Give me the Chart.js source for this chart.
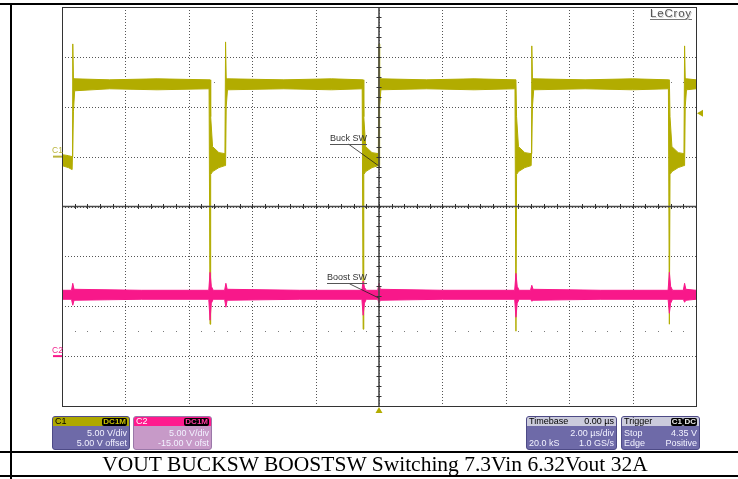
<!DOCTYPE html>
<html>
<head>
<meta charset="utf-8">
<script src="https://cdn.jsdelivr.net/npm/chart.js@4.4.0/dist/chart.umd.min.js"></script>
<style>
  html, body { margin: 0; padding: 0; background: #fff; }
  #page { position: relative; width: 738px; height: 479px; overflow: hidden; font-family: "Liberation Sans", Arial, sans-serif; }
  #scope { position: absolute; left: 0; top: 0; }
  .rule { position: absolute; background: #000; }
  .lbl { position: absolute; font-size: 8.5px; line-height: 9px; white-space: nowrap; }
  .note { position: absolute; font-size: 9px; line-height: 9px; color: #333; white-space: nowrap; border-bottom: 1px solid #555; padding-bottom: 1px; }
  #logo { position: absolute; left: 650px; top: 7px; font-size: 11.5px; line-height: 12px; color: #555; letter-spacing: 0.8px; border-bottom: 1px solid #777; text-shadow: 1px 1px 0 #d0d0d0; }
  #caption { position: absolute; left: 12px; width: 726px; top: 453px; height: 22px; line-height: 22px; text-align: center; font-family: "Liberation Serif", "Times New Roman", serif; font-size: 21.5px; color: #000; white-space: nowrap; }
  .box { position: absolute; top: 416px; height: 34px; border-radius: 3px; overflow: hidden; border: 1px solid #4d4a86; box-sizing: border-box; font-size: 9px; line-height: 9px; }
  .box .hd { position: absolute; left: 0; right: 0; top: 0; height: 9px; color: #000; }
  .box .hd span { position: absolute; top: 0; }
  .box .row { position: absolute; left: 2px; right: 2px; height: 9px; color: #f2f2ff; }
  .box .row span { position: absolute; top: 0; }
  .badge { background: #000; border-radius: 2px; font-weight: bold; font-size: 8px; line-height: 8px; padding: 0 1px; top: 0.5px !important; }
</style>
</head>
<body>
<div id="page">
  <canvas id="scope" width="738" height="479"></canvas>

  <div class="rule" style="left:0; top:3px; width:738px; height:2px;"></div>
  <div class="rule" style="left:10px; top:3px; width:2px; height:476px;"></div>
  <div class="rule" style="left:0; top:451px; width:738px; height:2px;"></div>
  <div class="rule" style="left:0; top:475px; width:738px; height:2px;"></div>

  <div id="logo">LeCroy</div>

  <div class="lbl" style="left:52px; top:146px; color:#bab43c;">C1</div>
  <div class="lbl" style="left:52px; top:346px; color:#f0208c;">C2</div>

  <div class="note" style="left:330px; top:134px;">Buck SW</div>
  <div class="note" style="left:327px; top:273px;">Boost SW</div>

  <div class="box" style="left:52px; width:78px; background:#6e6aa8;">
    <div class="hd" style="background:#aea800;"><span style="left:2px;">C1</span><span class="badge" style="right:2px; color:#c8c200;">DC1M</span></div>
    <div class="row" style="top:12px;"><span style="right:0;">5.00 V/div</span></div>
    <div class="row" style="top:22px;"><span style="right:0;">5.00 V offset</span></div>
  </div>
  <div class="box" style="left:133px; width:79px; background:#c79ac8; border-color:#9a78a8;">
    <div class="hd" style="background:#ff1a8e; color:#fff;"><span style="left:2px;">C2</span><span class="badge" style="right:2px; color:#ff3aa0;">DC1M</span></div>
    <div class="row" style="top:12px;"><span style="right:0;">5.00 V/div</span></div>
    <div class="row" style="top:22px;"><span style="right:0;">-15.00 V ofst</span></div>
  </div>
  <div class="box" style="left:526px; width:91px; background:#6e6aa8;">
    <div class="hd" style="background:#cbcbdc;"><span style="left:2px;">Timebase</span><span style="right:2px;">0.00 µs</span></div>
    <div class="row" style="top:12px;"><span style="right:0;">2.00 µs/div</span></div>
    <div class="row" style="top:22px;"><span style="left:0;">20.0 kS</span><span style="right:0;">1.0 GS/s</span></div>
  </div>
  <div class="box" style="left:621px; width:79px; background:#6e6aa8;">
    <div class="hd" style="background:#cbcbdc;"><span style="left:2px;">Trigger</span><span class="badge" style="right:16px; color:#e8e8e8;">C1</span><span class="badge" style="right:2px; color:#e8e8e8;">DC</span></div>
    <div class="row" style="top:12px;"><span style="left:0;">Stop</span><span style="right:0;">4.35 V</span></div>
    <div class="row" style="top:22px;"><span style="left:0;">Edge</span><span style="right:0;">Positive</span></div>
  </div>

  <div id="caption">VOUT BUCKSW BOOSTSW Switching 7.3Vin 6.32Vout 32A</div>
</div>

<script>
// Time axis in µs (2 µs/div, 10 div), values in volts
const c1Time  = [-10.00, -9.80, -9.68, -9.66, -9.64, -9.60, -8.50, -7.00, -5.36,
                 -5.33, -5.31, -5.25, -5.05, -4.86, -4.84, -4.82, -4.78, -3.00, -1.50, -0.53,
                 -0.50, -0.48, -0.42, -0.22, -0.02, 0.00, 0.02, 0.06, 1.50, 3.00, 4.29,
                 4.32, 4.34, 4.40, 4.60, 4.80, 4.82, 4.84, 4.88, 6.50, 8.00, 9.13,
                 9.16, 9.18, 9.24, 9.44, 9.62, 9.64, 9.66, 9.70, 10.00];
const c1Upper = [0.2, 0.1, 0.0, 11.3, 7.9, 7.8, 7.7, 7.8, 7.7,
                 7.7, 4.0, 1.0, 0.4, 0.3, 11.5, 7.9, 7.8, 7.7, 7.8, 7.7,
                 7.7, 4.0, 1.0, 0.4, 0.3, 11.3, 7.9, 7.8, 7.7, 7.8, 7.7,
                 7.7, 4.0, 1.0, 0.4, 0.3, 11.1, 7.9, 7.8, 7.7, 7.8, 7.7,
                 7.7, 4.0, 1.0, 0.4, 0.3, 11.1, 7.9, 7.8, 7.7];
const c1Lower = [-0.9, -1.1, -1.3, -1.3, 4.5, 6.6, 6.8, 6.7, 6.8,
                 -16.8, -1.8, -1.5, -1.1, -0.9, -0.9, 5.0, 6.7, 6.8, 6.7, 6.8,
                 -17.3, -1.8, -1.5, -1.1, -0.9, -0.9, 5.0, 6.7, 6.8, 6.7, 6.8,
                 -17.5, -1.8, -1.5, -1.1, -0.9, -0.9, 5.0, 6.7, 6.8, 6.7, 6.8,
                 -16.8, -1.8, -1.5, -1.1, -0.9, -0.9, 5.0, 6.7, 6.8];

const c2Time  = [-10.00, -9.70, -9.66, -9.62, -7.50, -5.37, -5.33, -5.29, -5.23, -4.87, -4.83, -4.79,
                 -2.50, -0.54, -0.50, -0.46, -0.40, -0.04, 0.00, 0.04, 2.00, 4.28, 4.32, 4.36, 4.42,
                 4.78, 4.82, 4.86, 7.00, 9.12, 9.16, 9.20, 9.26, 9.60, 9.64, 9.68, 10.00];
const c2Upper = [6.6, 6.6, 7.3, 6.7, 6.6, 6.6, 8.4, 7.0, 6.6, 6.6, 7.3, 6.7,
                 6.6, 6.6, 7.5, 6.9, 6.6, 6.6, 7.3, 6.7, 6.6, 6.6, 8.3, 7.0, 6.6,
                 6.6, 7.1, 6.7, 6.6, 6.6, 8.4, 7.0, 6.6, 6.6, 7.3, 6.7, 6.6];
const c2Lower = [5.7, 5.7, 5.1, 5.6, 5.7, 5.7, 3.6, 5.3, 5.7, 5.7, 4.9, 5.6,
                 5.7, 5.7, 4.1, 5.3, 5.7, 5.7, 5.3, 5.6, 5.7, 5.7, 3.9, 5.3, 5.7,
                 5.7, 5.5, 5.6, 5.7, 5.7, 4.3, 5.3, 5.7, 5.7, 5.4, 5.6, 5.7];

const triggerLevel = 4.35;   // V on C1
const halfDivRows = [2.5, -2.5];

const C1_COLOR = '#b2ac00';
const C2_COLOR = '#f8188a';

// 5 V/div, offsets +5 V and -15 V -> position in divisions
const c1Div = v => v / 5 + 1;
const c2Div = v => v / 5 - 3;

function points(time, vals, toDiv) {
    return time.map((t, i) => ({ x: t, y: toDiv(vals[i]) }));
}

function trace(label, data, color, fill) {
    return {
        label: label,
        data: data,
        borderColor: color,
        backgroundColor: color,
        borderWidth: 1,
        pointRadius: 0,
        tension: 0,
        fill: fill
    };
}

const scopeDecor = {
    id: 'scopeDecor',
    beforeDatasetsDraw(chart) {
        const { ctx, chartArea: a, scales: { x, y } } = chart;
        ctx.save();
        // dotted graticule
        ctx.strokeStyle = '#555';
        ctx.lineWidth = 1;
        ctx.setLineDash([1, 2]);
        ctx.beginPath();
        for (let t = -8; t <= 8; t += 2) {
            const px = Math.round(x.getPixelForValue(t)) + 0.5;
            ctx.moveTo(px, a.top); ctx.lineTo(px, a.bottom);
        }
        for (let d = -3; d <= 3; d++) {
            const py = Math.round(y.getPixelForValue(d)) + 0.5;
            ctx.moveTo(a.left, py); ctx.lineTo(a.right, py);
        }
        ctx.stroke();
        ctx.setLineDash([]);

        ctx.fillStyle = '#7a7a7a';
        halfDivRows.forEach(row => {
            const py = Math.round(y.getPixelForValue(row));
            for (let t = -9.6; t < 10; t += 0.4) {
                if (Math.abs(t / 2 - Math.round(t / 2)) < 0.01) continue;
                ctx.fillRect(Math.round(x.getPixelForValue(t)), py, 1, 1);
            }
        });
        ctx.restore();
    },
    afterDatasetsDraw(chart) {
        const { ctx, chartArea: a, scales: { x, y } } = chart;
        const cx = x.getPixelForValue(0);
        const cy = y.getPixelForValue(0);
        ctx.save();

        // centre axes with minor ticks
        ctx.strokeStyle = '#4a4a4a';
        ctx.lineWidth = 1.6;
        ctx.beginPath();
        ctx.moveTo(a.left, cy); ctx.lineTo(a.right, cy);
        ctx.moveTo(cx, a.top); ctx.lineTo(cx, a.bottom);
        ctx.stroke();
        ctx.lineWidth = 1;
        ctx.strokeStyle = '#333';
        ctx.beginPath();
        for (let t = -9.6; t < 10; t += 0.4) {
            const px = Math.round(x.getPixelForValue(t)) + 0.5;
            ctx.moveTo(px, cy - 2.5); ctx.lineTo(px, cy + 2.5);
        }
        for (let d = -3.8; d < 4; d += 0.2) {
            const py = Math.round(y.getPixelForValue(d)) + 0.5;
            ctx.moveTo(cx - 2.5, py); ctx.lineTo(cx + 2.5, py);
        }
        ctx.stroke();

        // frame
        ctx.strokeStyle = '#333';
        ctx.strokeRect(Math.round(a.left) + 0.5, Math.round(a.top) + 0.5,
                       Math.round(a.right - a.left), Math.round(a.bottom - a.top));

        // annotation pointers
        ctx.strokeStyle = '#222';
        ctx.lineWidth = 0.8;
        ctx.beginPath();
        ctx.moveTo(x.getPixelForValue(-0.96), y.getPixelForValue(c1Div(1.25)));
        ctx.lineTo(x.getPixelForValue(-0.02), y.getPixelForValue(c1Div(-0.9)));
        ctx.moveTo(x.getPixelForValue(-0.93), y.getPixelForValue(c2Div(7.25)));
        ctx.lineTo(x.getPixelForValue(0.01), y.getPixelForValue(c2Div(5.8)));
        ctx.stroke();

        // trigger level marker (right) and trigger time marker (bottom)
        ctx.fillStyle = C1_COLOR;
        const ty = y.getPixelForValue(c1Div(triggerLevel));
        ctx.beginPath();
        ctx.moveTo(a.right + 1, ty); ctx.lineTo(a.right + 7, ty - 3.5); ctx.lineTo(a.right + 7, ty + 3.5);
        ctx.closePath(); ctx.fill();
        ctx.beginPath();
        ctx.moveTo(cx, a.bottom + 1); ctx.lineTo(cx - 3.5, a.bottom + 7); ctx.lineTo(cx + 3.5, a.bottom + 7);
        ctx.closePath(); ctx.fill();

        // ground markers
        ctx.lineWidth = 2;
        ctx.strokeStyle = '#bab43c';
        const g1 = y.getPixelForValue(c1Div(0));
        ctx.beginPath(); ctx.moveTo(a.left - 9, g1); ctx.lineTo(a.left, g1); ctx.stroke();
        ctx.strokeStyle = C2_COLOR;
        const g2 = y.getPixelForValue(c2Div(0));
        ctx.beginPath(); ctx.moveTo(a.left - 9, g2); ctx.lineTo(a.left, g2); ctx.stroke();

        ctx.restore();
    }
};

const chart = new Chart(document.getElementById('scope'), {
    type: 'line',
    data: {
        datasets: [
            trace('C2 max', points(c2Time, c2Upper, c2Div), C2_COLOR, false),
            trace('C2 min', points(c2Time, c2Lower, c2Div), C2_COLOR, '-1'),
            trace('C1 max', points(c1Time, c1Upper, c1Div), C1_COLOR, false),
            trace('C1 min', points(c1Time, c1Lower, c1Div), C1_COLOR, '-1')
        ]
    },
    options: {
        responsive: false,
        animation: false,
        events: [],
        layout: { padding: { left: 62, right: 42, top: 7, bottom: 73 } },
        plugins: { legend: { display: false }, tooltip: { enabled: false } },
        scales: {
            x: {
                type: 'linear', min: -10, max: 10,
                ticks: { display: false, stepSize: 2 },
                grid: { display: false, drawTicks: false },
                border: { display: false }
            },
            y: {
                type: 'linear', min: -4, max: 4,
                ticks: { display: false, stepSize: 1 },
                grid: { display: false, drawTicks: false },
                border: { display: false }
            }
        }
    },
    plugins: [scopeDecor]
});
</script>
</body>
</html>
